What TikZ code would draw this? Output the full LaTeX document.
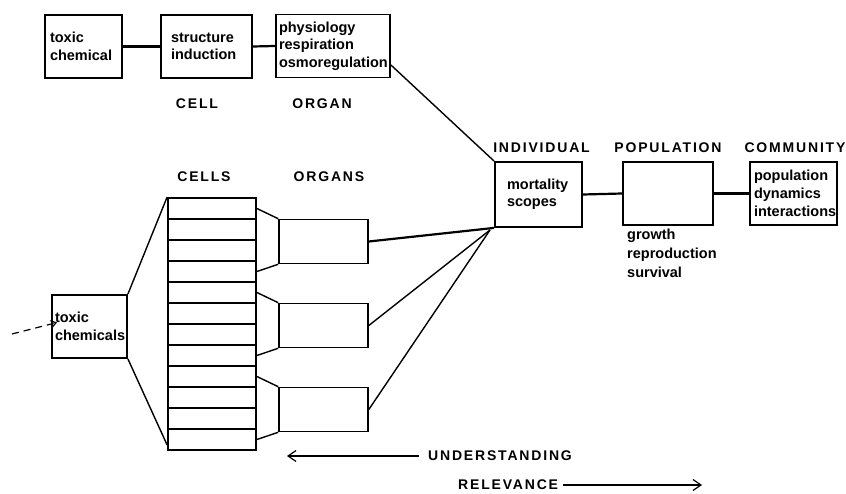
\documentclass[tikz,border=0pt]{standalone}
\usepackage{fontspec}
\setmainfont{Liberation Sans}
\newfontfamily\capfont[LetterSpace=13]{Liberation Sans}
\usetikzlibrary{arrows.meta}

\begin{document}
\begin{tikzpicture}[x=1pt,y=-1pt,>={Straight Barb[length=8pt,width=11pt]},
  box/.style={draw,line width=1.8pt,inner sep=0pt,align=left,minimum height=63pt,font=\bfseries\fontsize{14.5}{17.5}\selectfont},
  cell/.style={draw,line width=1.8pt,inner sep=0pt,minimum width=88pt,minimum height=21pt},
  organ/.style={draw,line width=1.6pt,inner sep=0pt,minimum width=89pt,minimum height=44pt},
  lvl/.style={inner sep=0pt,font=\capfont\bfseries\fontsize{14}{16}\selectfont},
  link/.style={line width=2.2pt},
  fan/.style={line width=1.4pt}]
  \useasboundingbox (0,0) rectangle (846,494);

  % single chemical, cell to community
  \node[box,minimum width=77pt,text width=67pt] (tc) at (83.5,46.5) {toxic\\chemical};
  \node[box,minimum width=91pt,text width=71pt] (si) at (206.5,46.5) {structure\\induction};
  \node[box,minimum width=114pt,text width=108pt] (ph) at (333,46) {physiology\\respiration\\osmoregulation};
  \node[box,minimum width=87pt,minimum height=65pt,text width=63pt] (ind) at (538.5,194.5) {mortality\\scopes};
  \node[box,minimum width=90pt] (pop) at (668,193.5) {};
  \node[box,minimum width=87pt,text width=79pt,font=\bfseries\fontsize{14.5}{18}\selectfont] (com) at (793.5,193.5) {population\\dynamics\\interactions};

  \node[lvl] (lcell) at (197,104) {CELL};
  \node[lvl] (lorgan) at (322,104) {ORGAN};
  \node[lvl] (lind) at (541.5,148) {INDIVIDUAL};
  \node[lvl] (lpop) at (668,148) {POPULATION};
  \node[lvl] (lcom) at (795,148) {COMMUNITY};
  \node[lvl] (lcells) at (204,177) {CELLS};
  \node[lvl] (lorgans) at (329,177) {ORGANS};

  \node[anchor=north west,inner sep=0pt,align=left,font=\bfseries\fontsize{14.5}{19}\selectfont] (pout) at (627,229) {growth\\reproduction\\survival};

  \draw[link] (tc.east) -- (si.west);
  \draw[link] (si.east) -- (ph.west);
  \draw[fan] ([yshift=-19pt]ph.east) -- (ind.north west);
  \draw[link] (ind.east) -- (pop.west);
  \draw[link] (pop.east) -- (com.west);

  % mixture: cells and organs
  \node[box,minimum width=75pt,text width=69pt] (tcs) at (89.5,326.5) {toxic\\chemicals};
  \coordinate (src) at (12,334);
  \draw[->,dash pattern=on 7pt off 5pt,line width=1.2pt,>={Straight Barb[length=5pt,width=7pt]}] (src) -- ([xshift=6pt,yshift=4pt]tcs.west);

  \node[cell] (c1) at (212,208.5) {};
  \node[cell] (c2) at (212,229.5) {};
  \node[cell] (c3) at (212,250.5) {};
  \node[cell] (c4) at (212,271.5) {};
  \node[cell] (c5) at (212,292.5) {};
  \node[cell] (c6) at (212,313.5) {};
  \node[cell] (c7) at (212,334.5) {};
  \node[cell] (c8) at (212,355.5) {};
  \node[cell] (c9) at (212,376.5) {};
  \node[cell] (c10) at (212,397.5) {};
  \node[cell] (c11) at (212,418.5) {};
  \node[cell] (c12) at (212,439.5) {};

  \draw[fan] (tcs.north east) -- (c1.north west);
  \draw[fan] (tcs.south east) -- ([yshift=6pt]c12.south west);

  \node[organ] (o1) at (323.5,241.5) {};
  \node[organ] (o2) at (323.5,325.5) {};
  \node[organ] (o3) at (323.5,409.5) {};

  \draw[fan] (c1.east) -- (o1.north west);
  \draw[fan] (c4.east) -- (o1.south west);
  \draw[fan] (c5.east) -- (o2.north west);
  \draw[fan] (c8.east) -- (o2.south west);
  \draw[fan] (c9.east) -- (o3.north west);
  \draw[fan] (c12.east) -- (o3.south west);

  \coordinate (hub) at (490,230);
  \draw[link] (o1.east) -- (ind.south west);
  \draw[fan] (o2.east) -- (hub);
  \draw[fan] (o3.east) -- (hub);

  % direction arrows
  \node[lvl,anchor=west] (und) at (428,456) {UNDERSTANDING};
  \coordinate (uend) at (287,456);
  \draw[->,line width=1.2pt] ([xshift=-9pt]und.west) -- (uend);
  \node[lvl,anchor=west] (rel) at (458,485) {RELEVANCE};
  \coordinate (rend) at (702,485);
  \draw[->,line width=1.2pt] ([xshift=5pt]rel.east) -- (rend);
\end{tikzpicture}
\end{document}
